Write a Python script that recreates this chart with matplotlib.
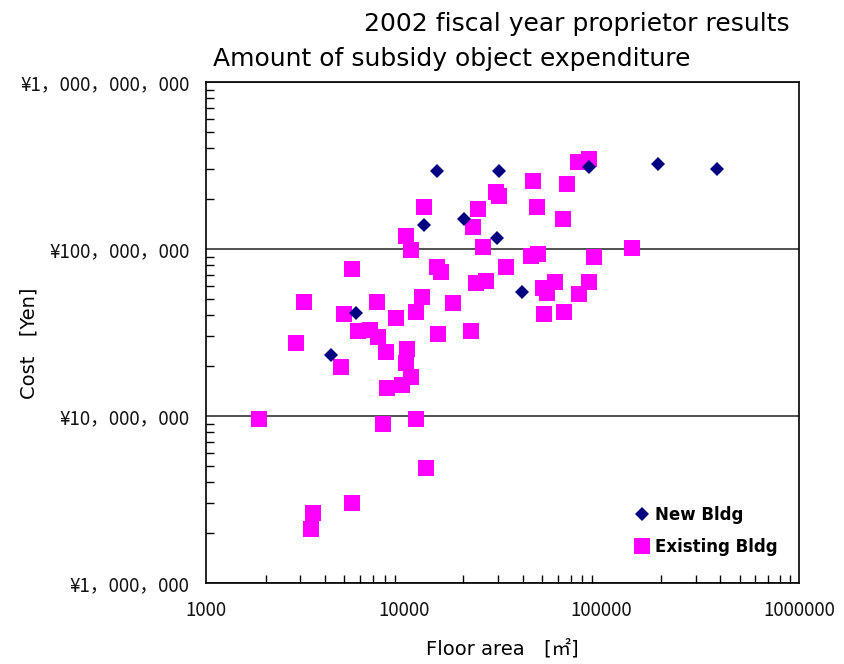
import matplotlib
matplotlib.use("Agg")
import matplotlib.pyplot as plt
from matplotlib.ticker import LogLocator, FuncFormatter, NullFormatter

plt.rcParams['font.family'] = ['Noto Sans CJK JP', 'DejaVu Sans']
latin = ['DejaVu Sans', 'Noto Sans CJK JP']

# New Bldg: floor area [m2], cost [yen]
new_area = [14700, 30200, 86300, 193000, 385000, 12700, 20300, 29500, 39500, 5760, 4300]
new_cost = [2.93e8, 2.93e8, 3.1e8, 3.23e8, 3.01e8, 1.39e8, 1.51e8, 1.16e8, 5.53e7, 4.14e7, 2.32e7]

# Existing Bldg
old_area = [1860, 2860, 3140, 3400, 3490, 4830, 5000, 5500, 5500, 5890,
            6780, 7450, 7360, 8170, 7890, 8270, 9180, 9850, 10300, 10450,
            10900, 10300, 10900, 11500, 11600, 12400, 12700, 12900, 14800, 15400,
            15000, 17700, 22000, 22300, 23100, 23900, 25300, 26200, 29200, 30500,
            32800, 43900, 47600, 44900, 47100, 50500, 52900, 58100, 51000, 63700,
            64500, 66800, 75900, 86300, 76800, 86300, 91500, 143000]
old_cost = [9.6e6, 2.74e7, 4.82e7, 2.1e6, 2.62e6, 1.96e7, 4.08e7, 7.59e7, 3.01e6, 3.23e7,
            3.27e7, 2.97e7, 4.82e7, 2.42e7, 8.96e6, 1.47e7, 3.86e7, 1.53e7, 2.08e7, 2.52e7,
            1.71e7, 1.2e8, 9.86e7, 4.2e7, 9.6e6, 5.16e7, 1.78e8, 4.89e6, 7.8e7, 7.28e7,
            3.1e7, 4.75e7, 3.23e7, 1.35e8, 6.25e7, 1.74e8, 1.03e8, 6.43e7, 2.19e8, 2.08e8,
            7.8e7, 9.08e7, 9.33e7, 2.55e8, 1.78e8, 5.84e7, 5.45e7, 6.34e7, 4.08e7, 1.51e8,
            4.2e7, 2.45e8, 3.32e8, 3.46e8, 5.38e7, 6.34e7, 8.96e7, 1.01e8]

fig = plt.figure(figsize=(8.45, 6.64), dpi=100)
ax = fig.add_axes([0.2438, 0.1220, 0.7018, 0.7545])

ax.plot(old_area, old_cost, linestyle="none", marker="s", markersize=11,
        color="#FF00FF", markeredgewidth=0, label="Existing Bldg", zorder=3)
ax.plot(new_area, new_cost, linestyle="none", marker="D", markersize=7.5,
        color="#000080", markeredgewidth=0, label="New Bldg", zorder=4)

ax.set_xscale("log")
ax.set_yscale("log")
ax.set_xlim(1000, 1000000)
ax.set_ylim(1e6, 1e9)

ax.yaxis.set_major_locator(LogLocator(base=10, numticks=10))
ax.yaxis.set_major_formatter(FuncFormatter(lambda v, p: "¥" + "{:,}".format(int(round(v))).replace(",", "，")))
ax.xaxis.set_major_formatter(FuncFormatter(lambda v, p: "{:d}".format(int(round(v)))))
ax.xaxis.set_minor_locator(LogLocator(base=10, subs=range(2, 10), numticks=20))
ax.yaxis.set_minor_locator(LogLocator(base=10, subs=range(2, 10), numticks=20))
ax.xaxis.set_minor_formatter(NullFormatter())
ax.yaxis.set_minor_formatter(NullFormatter())

ax.tick_params(which="major", length=0, pad=12, labelsize=13.5, colors="#111111")
ax.tick_params(which="minor", direction="in", length=6, width=1, color="black")
ax.tick_params(axis="x", which="major", pad=12)

ax.grid(axis="y", which="major", color="#333333", linewidth=1.2)
for s in ax.spines.values():
    s.set_color("black")
    s.set_linewidth(1.2)

ax.set_xlabel("Floor area　[㎡]", fontsize=14, family=latin, labelpad=13)
ax.set_ylabel("Cost　[Yen]", fontsize=14, family=latin)
ax.yaxis.set_label_coords(-0.283, 0.479)

fig.text(0.935, 0.953, "2002 fiscal year proprietor results", fontsize=18,
         family=latin, ha="right", va="baseline")
fig.text(0.252, 0.9, "Amount of subsidy object expenditure", fontsize=18,
         family=latin, ha="left", va="baseline")

handles, labels = ax.get_legend_handles_labels()
ax.legend(handles[::-1], labels[::-1], loc="lower left", bbox_to_anchor=(0.71, 0.041),
          borderaxespad=0, frameon=False, handletextpad=0.3, labelspacing=0.85,
          handlelength=1.0, prop={"family": latin, "size": 12, "weight": "bold"})

fig.savefig("out.png", dpi=100)
